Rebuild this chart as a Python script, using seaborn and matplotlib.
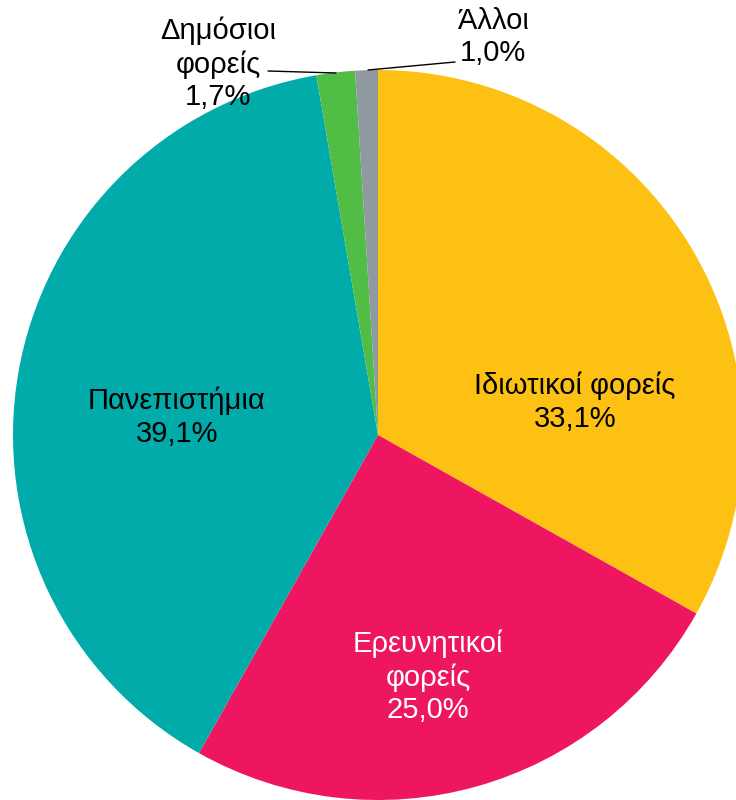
import matplotlib
matplotlib.use("Agg")
import matplotlib.pyplot as plt
import seaborn as sns

# data
labels = ["Ιδιωτικοί φορείς", "Ερευνητικοί\nφορείς", "Πανεπιστήμια", "Δημόσιοι\nφορείς", "Άλλοι"]
shares = [33.1, 25.0, 39.1, 1.7, 1.0]
colors = ["#FDC113", "#EE1660", "#00ABA9", "#52BD45", "#8E99A2"]
text_colors = ["black", "white", "black", "black", "black"]

sns.set_theme(style="white")
plt.rcParams["font.family"] = ["Liberation Sans", "DejaVu Sans"]

fig = plt.figure(figsize=(7.36, 8), dpi=100)
ax = fig.add_axes([0, 0, 1, 1])

ax.pie(shares, colors=colors, startangle=90, counterclock=False,
       center=(378, 365), radius=365, frame=True,
       wedgeprops=dict(linewidth=0))
ax.set_xlim(0, 736)
ax.set_ylim(0, 800)
ax.set_aspect("equal")
ax.axis("off")

# label positions (pixels from top-left)
label_pos = [(575, 402), (428, 677), (177, 417), (218, 64), (493, 37)]
for lab, val, (x, y), tc in zip(labels, shares, label_pos, text_colors):
    txt = f"{lab}\n{val:.1f}%".replace(".", ",")
    ax.text(x, 800 - y, txt, ha="center", va="center", fontsize=21,
            color=tc, linespacing=1.22)

# leader lines for small slices
ax.plot([268, 336], [800 - 71, 800 - 73], color="black", lw=1)
ax.plot([368, 455], [800 - 70, 800 - 62], color="black", lw=1)

fig.savefig("out.png", dpi=100)
